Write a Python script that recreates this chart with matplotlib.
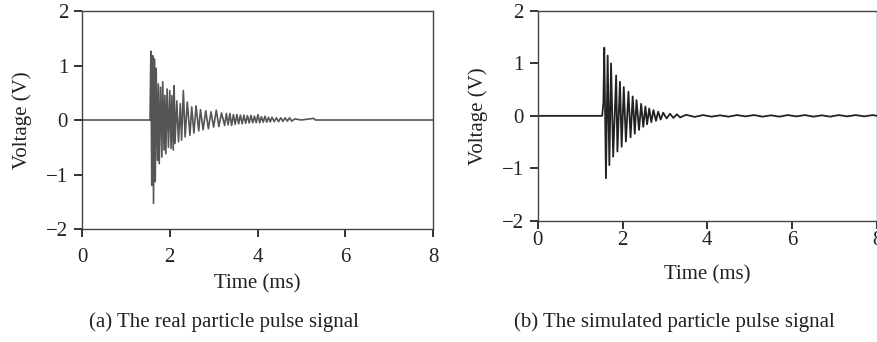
import matplotlib
matplotlib.use("Agg")
import matplotlib.pyplot as plt

plt.rcParams["font.family"] = ["Liberation Serif", "DejaVu Serif"]
plt.rcParams["font.size"] = 15

# (a) 実測パルス信号: ピーク値を交互に読み取り
t_real = [0.0, 1.55, 1.57, 1.59, 1.61, 1.63, 1.65, 1.67, 1.69, 1.72, 1.74, 1.76,
          1.79, 1.82, 1.84, 1.87, 1.89, 1.91, 1.94, 1.97, 2.00, 2.03, 2.05, 2.08,
          2.10, 2.12, 2.16, 2.20, 2.24, 2.27, 2.31, 2.35, 2.40, 2.46, 2.50, 2.55,
          2.60, 2.66, 2.70, 2.76, 2.82, 2.88, 2.94, 3.00, 3.06, 3.12, 3.18,
          3.25, 3.29, 3.33, 3.37, 3.41, 3.45, 3.49, 3.53, 3.57, 3.61, 3.65, 3.69,
          3.73, 3.77, 3.81, 3.85, 3.89, 3.93, 3.97, 4.01, 4.05, 4.09, 4.13, 4.17,
          4.21, 4.25, 4.29, 4.33, 4.38, 4.43, 4.48, 4.53, 4.58, 4.63, 4.68, 4.73,
          4.78, 4.85, 5.00, 5.28, 5.32, 8.0]
v_real = [0.0, 0.0, 1.26, -1.20, 1.18, -1.53, 1.12, -1.13, 0.95, -0.74, 0.66, -0.80,
          0.60, -0.68, 0.70, -0.55, 0.45, -0.62, 0.57, -0.50, 0.54, -0.52, 0.45, -0.55,
          0.63, -0.43, 0.35, -0.40, 0.30, -0.37, 0.54, -0.31, 0.33, -0.28, 0.24, -0.24,
          0.26, -0.20, 0.19, -0.18, 0.17, -0.16, 0.15, -0.13, 0.18, -0.12, 0.13,
          -0.10, 0.12, -0.09, 0.12, -0.10, 0.10, -0.08, 0.10, -0.07, 0.09, -0.07, 0.09,
          -0.06, 0.08, -0.055, 0.085, -0.05, 0.07, -0.05, 0.10, -0.05, 0.06, -0.04, 0.07,
          -0.04, 0.05, -0.035, 0.05, -0.03, 0.04, -0.03, 0.04, -0.025, 0.04, -0.02, 0.04,
          -0.02, 0.02, 0.0, 0.03, 0.0, 0.0]

# (b) シミュレーション信号
t_sim = [0.0, 1.52, 1.55, 1.57, 1.61, 1.65, 1.69, 1.73, 1.78, 1.85, 1.88, 1.94,
         1.98, 2.03, 2.08, 2.14, 2.19, 2.24, 2.29, 2.33, 2.39, 2.44, 2.49, 2.54,
         2.58, 2.63, 2.68, 2.73, 2.79, 2.84, 2.90, 2.96, 3.04, 3.12, 3.20, 3.28,
         3.36, 3.50, 3.70, 3.90, 4.10, 4.30, 4.50, 4.70, 4.90, 5.10, 5.30, 5.50,
         5.70, 5.90, 6.10, 6.30, 6.50, 6.70, 6.90, 7.10, 7.30, 7.50, 7.70, 7.90, 8.0]
v_sim = [0.0, 0.0, 0.25, 1.30, -1.19, 1.15, -0.94, 1.00, -0.78, 0.77, -0.68, 0.65,
         -0.59, 0.55, -0.49, 0.46, -0.41, 0.37, -0.34, 0.30, -0.27, 0.23, -0.21, 0.18,
         -0.16, 0.14, -0.12, 0.11, -0.095, 0.08, -0.07, 0.06, -0.05, 0.04, -0.04, 0.03,
         -0.03, 0.02, -0.02, 0.015, -0.015, 0.01, -0.015, 0.015, -0.01, 0.015, -0.015, 0.01,
         -0.015, 0.015, -0.01, 0.015, -0.015, 0.01, -0.015, 0.015, -0.01, 0.015, -0.01, 0.015, 0.0]

x_ticks = [0, 2, 4, 6, 8]
y_ticks = [-2, -1, 0, 1, 2]
captions = ["(a) The real particle pulse signal", "(b) The simulated particle pulse signal"]

fig = plt.figure(figsize=(8.78, 3.42), dpi=100)
ax1 = fig.add_axes([0.0934, 0.3304, 0.3998, 0.6374])
ax2 = fig.add_axes([0.6124, 0.3547, 0.3864, 0.6131])

ax1.plot(t_real, v_real, color="#555555", lw=1.2)
ax2.plot(t_sim, v_sim, color="#222222", lw=1.3)

for ax, xpad, xlp in ((ax1, 8, 5), (ax2, 1.5, 11)):
    ax.set_xlim(0, 8)
    ax.set_ylim(-2, 2)
    ax.set_xticks(x_ticks)
    ax.set_yticks(y_ticks)
    ax.tick_params(direction="out", length=6, width=1.3, colors="#222222",
                   top=False, right=False, labelsize=15)
    ax.tick_params(axis="x", pad=xpad)
    ax.tick_params(axis="y", pad=4)
    for s in ax.spines.values():
        s.set_color("#444444")
        s.set_linewidth(1.0)
    ax.set_xlabel("Time (ms)", fontsize=15, color="#222222", labelpad=xlp)
    ax.set_ylabel("Voltage (V)", fontsize=15, color="#222222", labelpad=10)

fig.text(224 / 878, 1 - 322 / 342, captions[0], ha="center", va="center",
         fontsize=15, color="#222222")
fig.text(674 / 878, 1 - 322 / 342, captions[1], ha="center", va="center",
         fontsize=15, color="#222222")

plt.savefig("out.png", dpi=100)
